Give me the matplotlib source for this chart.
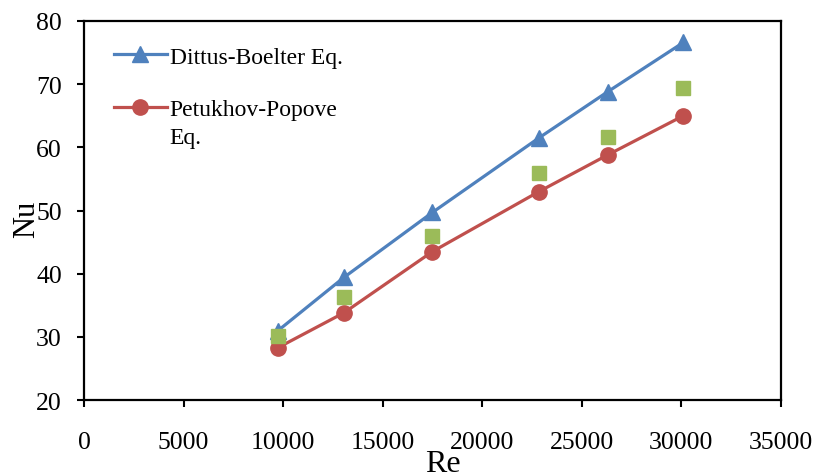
import matplotlib
matplotlib.use("Agg")
import matplotlib.pyplot as plt

plt.rcParams['font.family'] = ['Liberation Serif', 'DejaVu Serif']

re_vals = [9750, 13050, 17500, 22850, 26300, 30100]
nu_dittus = [31.0, 39.4, 49.7, 61.5, 68.8, 76.6]
nu_petukhov = [28.3, 33.8, 43.5, 53.0, 58.8, 65.0]
nu_exp = [30.1, 36.3, 46.0, 56.0, 61.6, 69.4]

fig = plt.figure(figsize=(8.13, 4.77), dpi=100)
ax = fig.add_axes([0.1033, 0.1593, 0.8573, 0.7946])

ax.plot(re_vals, nu_dittus, color='#4F81BD', lw=2.3, marker='^', ms=11.5,
        label='Dittus-Boelter Eq.')
ax.plot(re_vals, nu_petukhov, color='#C0504D', lw=2.3, marker='o', ms=11,
        label='Petukhov-Popove')
ax.plot(re_vals, nu_exp, ls='none', color='#9BBB59', marker='s', ms=10.5)

ax.set_xlim(0, 35000)
ax.set_ylim(20, 80)
ax.set_xticks(range(0, 35001, 5000))
ax.set_yticks(range(20, 81, 10))

for s in ax.spines.values():
    s.set_linewidth(1.6)
ax.tick_params(axis='both', direction='out', length=5, width=1.5, labelsize=18.5)
ax.tick_params(axis='x', pad=17)
ax.tick_params(axis='y', pad=11)

ax.set_xlabel('Re', fontsize=23)
ax.set_ylabel('Nu', fontsize=22)
ax.xaxis.set_label_coords(0.515, -0.128)
ax.yaxis.set_label_coords(-0.062, 0.48)

leg = ax.legend(loc='upper left', bbox_to_anchor=(0.012, 0.99), frameon=False,
                fontsize=17, handlelength=2.25, handletextpad=0.12,
                labelspacing=1.3)

# second line of the Petukhov label sits under the first, handle stays on line 1
fig.canvas.draw()
t2 = leg.get_texts()[1]
bb = t2.get_window_extent().transformed(ax.transAxes.inverted())
ax.text(bb.x0, bb.y0 - 0.018, 'Eq.', transform=ax.transAxes, fontsize=17,
        ha='left', va='top')

fig.savefig('out.png', dpi=100)
